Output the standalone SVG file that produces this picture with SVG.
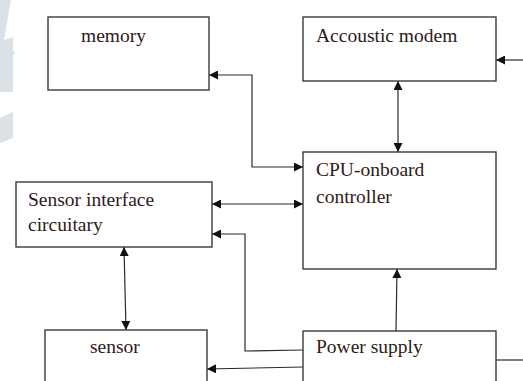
<svg xmlns="http://www.w3.org/2000/svg" width="523" height="381" viewBox="0 0 523 381">
<defs>
<marker id="ah" viewBox="0 0 10 10" refX="10" refY="5" markerWidth="9" markerHeight="9" markerUnits="userSpaceOnUse" orient="auto-start-reverse">
<path d="M0,0 L10,5 L0,10 Z" fill="#111"/>
</marker>
<style>
.box{fill:#fff;stroke:#3a3a3a;stroke-width:1.4}
.ln{fill:none;stroke:#2a2a2a;stroke-width:1.2}
.t{font-family:"Liberation Serif","Times New Roman",serif;font-size:19.5px;fill:#2e1a1a}
.wm{fill:#dbe2e7}
</style>
</defs>
<rect width="523" height="381" fill="#fff"/>
<g id="watermark">
<path class="wm" d="M0,0 L11,0 L4,40 L13,37 L13,50 L15,53 L13,55 L13,92 L0,92 Z"/>
<path class="wm" d="M0,118 L13,112 L13,138 L0,143 Z"/>
</g>
<g id="connectors">
<path class="ln" d="M303,167 H252 V75 H209" marker-start="url(#ah)" marker-end="url(#ah)"/>
<path class="ln" d="M523,60 H496" marker-end="url(#ah)"/>
<path class="ln" d="M398,81 V152" marker-start="url(#ah)" marker-end="url(#ah)"/>
<path class="ln" d="M212,204 H303" marker-start="url(#ah)" marker-end="url(#ah)"/>
<path class="ln" d="M303,350 L245,351 V234 H212" marker-end="url(#ah)"/>
<path class="ln" d="M303,367 L207,369" marker-end="url(#ah)"/>
<path class="ln" d="M396,331 L397,269" marker-end="url(#ah)"/>
<path class="ln" d="M496,360 H523"/>
<path class="ln" d="M124,247 L126,330" marker-start="url(#ah)" marker-end="url(#ah)"/>
</g>
<g id="memory">
<rect class="box" x="48" y="17" width="161" height="73"/>
<text class="t" x="81" y="42">memory</text>
</g>
<g id="modem">
<rect class="box" x="303" y="17" width="193" height="64"/>
<text class="t" x="316" y="42">Accoustic modem</text>
</g>
<g id="cpu">
<rect class="box" x="303" y="152" width="193" height="117"/>
<text class="t" x="316" y="176">CPU-onboard</text>
<text class="t" x="316" y="203">controller</text>
</g>
<g id="sensor-interface">
<rect class="box" x="16" y="182" width="196" height="65"/>
<text class="t" x="28" y="206">Sensor interface</text>
<text class="t" x="28" y="231">circuitary</text>
</g>
<g id="sensor">
<rect class="box" x="45" y="330" width="162" height="70"/>
<text class="t" x="90" y="353">sensor</text>
</g>
<g id="power">
<rect class="box" x="303" y="331" width="193" height="70"/>
<text class="t" x="316" y="353">Power supply</text>
</g>
</svg>
